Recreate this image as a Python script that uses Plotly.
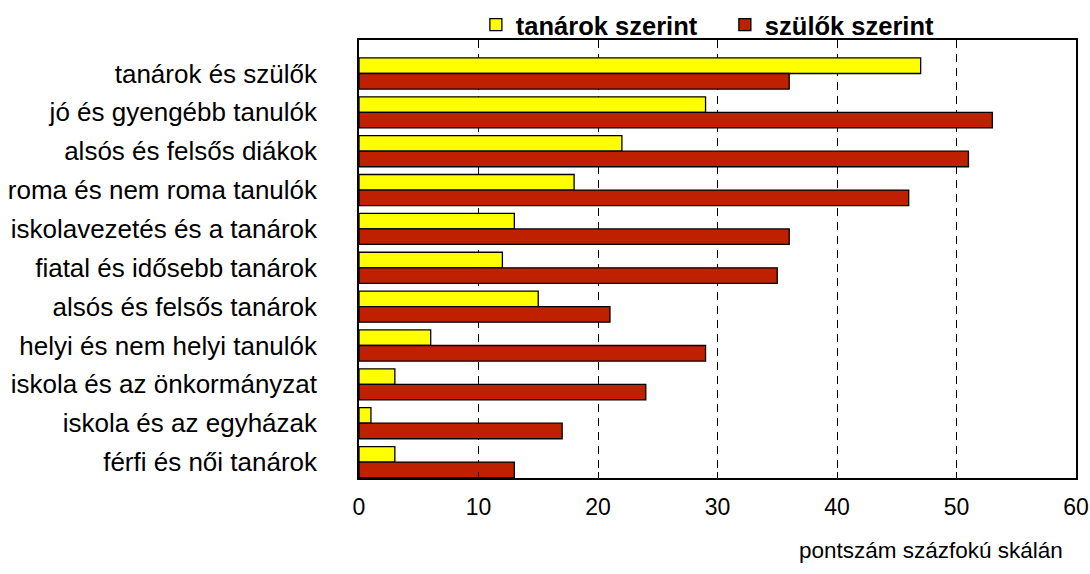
import plotly.graph_objects as go

categories = ["tanárok és szülők", "jó és gyengébb tanulók", "alsós és felsős diákok",
              "roma és nem roma tanulók", "iskolavezetés és a tanárok",
              "fiatal és idősebb tanárok", "alsós és felsős tanárok",
              "helyi és nem helyi tanulók", "iskola és az önkormányzat",
              "iskola és az egyházak", "férfi és női tanárok"]
tanarok = [47, 29, 22, 18, 13, 12, 15, 6, 3, 1, 3]
szulok = [36, 53, 51, 46, 36, 35, 21, 29, 24, 17, 13]
x_ticks = [0, 10, 20, 30, 40, 50, 60]

FONT = "Liberation Sans, Arial, sans-serif"

fig = go.Figure()
fig.add_trace(go.Bar(y=categories, x=tanarok, orientation="h", name="tanárok szerint",
                     marker=dict(color="#FFFF00", line=dict(color="black", width=1.3))))
fig.add_trace(go.Bar(y=categories, x=szulok, orientation="h", name="szülők szerint",
                     marker=dict(color="#BF2000", line=dict(color="black", width=1.3))))

fig.update_layout(
    width=1090, height=574,
    margin=dict(l=359, r=14, t=40, b=96, autoexpand=False),
    paper_bgcolor="white", plot_bgcolor="white",
    barmode="group", bargap=0.2, bargroupgap=0,
    font=dict(family=FONT, size=26, color="black"),
    legend=dict(orientation="h", x=0.163, xanchor="left", y=1.034, yanchor="middle",
                font=dict(size=25.5, family=FONT, weight="bold"),
                bgcolor="rgba(0,0,0,0)", itemwidth=30, tracegroupgap=0,
                entrywidth=204, entrywidthmode="pixels"),
    showlegend=True,
)
fig.update_xaxes(range=[0, 60], tickvals=x_ticks, showgrid=True, gridcolor="black",
                 griddash="8px,6px", gridwidth=1, showline=True, linecolor="black",
                 linewidth=1.5, mirror=True, ticks="inside", ticklen=6,
                 tickcolor="black", zeroline=False, automargin=False,
                 tickfont=dict(size=23), ticklabelstandoff=8)
fig.update_yaxes(range=[10.41, -0.862], showline=True, linecolor="black", linewidth=1.5,
                 mirror=True, ticks="", ticklabelstandoff=35, showgrid=False,
                 automargin=False)
fig.add_annotation(text="pontszám százfokú skálán", xref="paper", yref="paper",
                   x=0.984, y=-0.165, xanchor="right", yanchor="middle",
                   showarrow=False, font=dict(size=22.5, family=FONT))

# drop the default body margin so the figure fills the window exactly
fig.write_html("out.html", config={"displayModeBar": False},
               post_script="document.body.style.margin='0';document.body.style.overflow='hidden';")
